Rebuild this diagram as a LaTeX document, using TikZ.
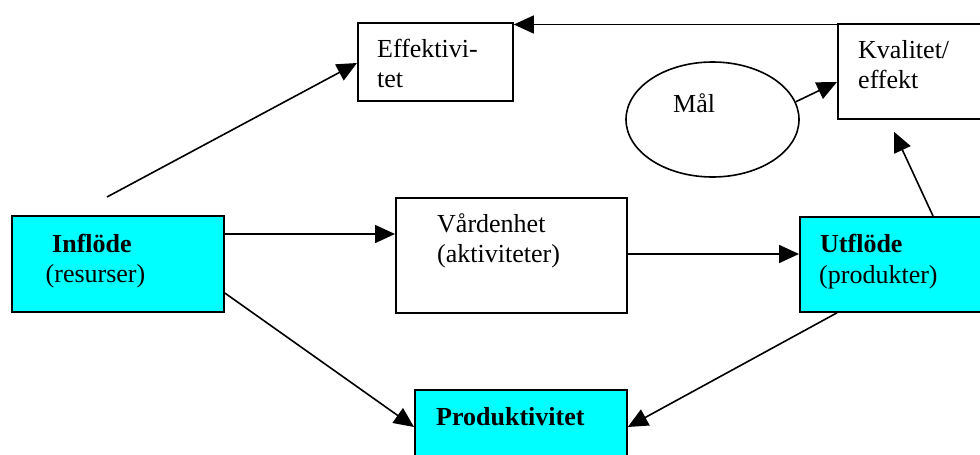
\documentclass[tikz,border=0pt]{standalone}
\usepackage{fontspec}
\setmainfont{Liberation Serif}
\usetikzlibrary{arrows.meta,shapes.geometric,calc}
\definecolor{boxcyan}{HTML}{00FFFF}
\tikzset{
  box/.style={draw=black, line width=1.8pt, rectangle, inner sep=0pt, anchor=north west},
  cbox/.style={box, fill=boxcyan},
  txt/.style={anchor=base west, inner sep=0pt, font=\fontsize{26}{30}\selectfont},
  arr/.style={line width=1.6pt, -{Triangle[length=20pt,width=18pt]}},
}
\begin{document}
\begin{tikzpicture}[x=1pt,y=-1pt]
\useasboundingbox (0,0) rectangle (980,455);
\clip (0,0) rectangle (980,455);
\fill[white] (0,0) rectangle (980,455);
% boxes
\node[cbox, minimum width=212pt, minimum height=96pt] (inf) at (11,215) {};
\node[box, minimum width=231pt, minimum height=115pt] (vard) at (395,197) {};
\node[cbox, minimum width=191pt, minimum height=95pt] (utf) at (799,216) {};
\node[cbox, minimum width=212pt, minimum height=85pt] (prod) at (414,389) {};
\node[box, minimum width=155pt, minimum height=78pt] (eff) at (357,22) {};
\node[box, minimum width=153pt, minimum height=95pt] (kval) at (837,23) {};
\node[draw=black, line width=1.6pt, ellipse, minimum width=173pt, minimum height=115pt, inner sep=0pt] (mal) at (712.5,119.5) {};
% texts
\node[txt] (tinf1) at (52,252) {\textbf{Inflöde}};
\node[txt] (tinf2) at (45.5,282) {(resurser)};
\node[txt] (tvard1) at (437,232) {Vårdenhet};
\node[txt] (tvard2) at (437,262) {(aktiviteter)};
\node[txt] (tutf1) at (820,252) {\textbf{Utflöde}};
\node[txt] (tutf2) at (819,283) {(produkter)};
\node[txt] (tprod) at (436,425) {\textbf{Produktivitet}};
\node[txt] (teff1) at (377,57) {Effektivi-};
\node[txt] (teff2) at (377,87) {tet};
\node[txt] (tkval1) at (858,58) {Kvalitet/};
\node[txt] (tkval2) at (858,88) {effekt};
\node[txt] (tmal) at (673,112) {Mål};
% connectors
\coordinate (freestart) at (107,197);
\draw[arr] (freestart) -- ([shift={(0,41)}]eff.north west);
\draw[arr] ([shift={(0,1.5)}]kval.north west) -- ([shift={(0,1.5)}]kval.north west -| eff.east);
\draw[arr] (mal.12) -- ([shift={(0,59)}]kval.north west);
\draw[arr] ([shift={(134,0)}]utf.north west) -- ([shift={(57,12)}]kval.south west);
\draw[arr] ([shift={(0,19)}]inf.north east) -- ([shift={(0,19)}]inf.north east -| vard.west);
\draw[arr] ([shift={(0,57)}]vard.north east) -- ([shift={(0,57)}]vard.north east -| utf.west);
\draw[arr] ([shift={(0,78)}]inf.north east) -- ([shift={(0,38)}]prod.north west);
\draw[arr] ([shift={(38,0)}]utf.south west) -- ([shift={(0,38)}]prod.north east);
\end{tikzpicture}
\end{document}
